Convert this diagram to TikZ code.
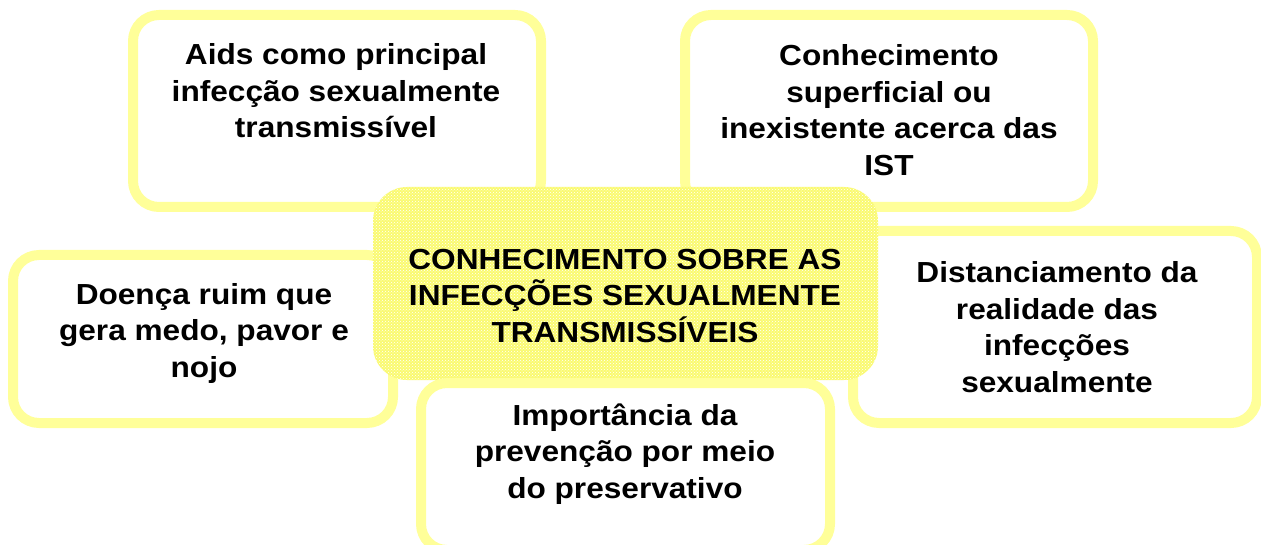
\documentclass[tikz,border=0pt]{standalone}
\usepackage{fontspec}
\newfontfamily\boxfont[FakeStretch=1.09]{Liberation Sans}
\usetikzlibrary{patterns,positioning}
\definecolor{borda}{RGB}{255,255,153}
\definecolor{centro}{RGB}{250,250,112}

\begin{document}
\begin{tikzpicture}[x=1pt,y=-1pt,
    caixa/.style={draw=borda, line width=10pt, rounded corners=26pt, fill=white, inner sep=0pt},
    texto/.style={font=\boxfont\bfseries\fontsize{29}{36.5}\selectfont, align=center, inner sep=0pt, anchor=base}]
        \useasboundingbox (0,0) rectangle (1261,545);
        % Caixas externas
        \node[caixa, minimum width=408pt, minimum height=192pt] (aids) at (337,111) {};
        \node[caixa, minimum width=408pt, minimum height=192pt] (superf) at (889,111) {};
        \node[caixa, minimum width=380pt, minimum height=168pt] (medo) at (203,339) {};
        \node[caixa, minimum width=404pt, minimum height=192pt] (dist) at (1055,327) {};
        % Caixa central
        \node[rounded corners=34pt, fill=centro, postaction={pattern=crosshatch dots, pattern color=white},
          minimum width=505pt, minimum height=193pt, inner sep=0pt] (conhec) at (625.5,283.5) {};
        \node[caixa, minimum width=409pt, minimum height=167pt] (prev) at (625.5,466.5) {};
        % Textos (ancorados na linha de base da ultima linha)
        \node[texto] (aidsT) at (336,138) {Aids como principal\\infecção sexualmente\\transmissível};
        \node[texto] (superfT) at (889,175.5) {Conhecimento\\superficial ou\\inexistente acerca das\\IST};
        \node[texto] (conhecT) at (625,342) {CONHECIMENTO SOBRE AS\\INFECÇÕES SEXUALMENTE\\TRANSMISSÍVEIS};
        \node[texto] (medoT) at (204,377) {Doença ruim que\\gera medo, pavor e\\nojo};
        \node[texto] (distT) at (1057,392) {Distanciamento da\\realidade das\\infecções\\sexualmente};
        \node[texto] (prevT) at (625,498) {Importância da\\prevenção por meio\\do preservativo};
      \end{tikzpicture}
\end{document}
